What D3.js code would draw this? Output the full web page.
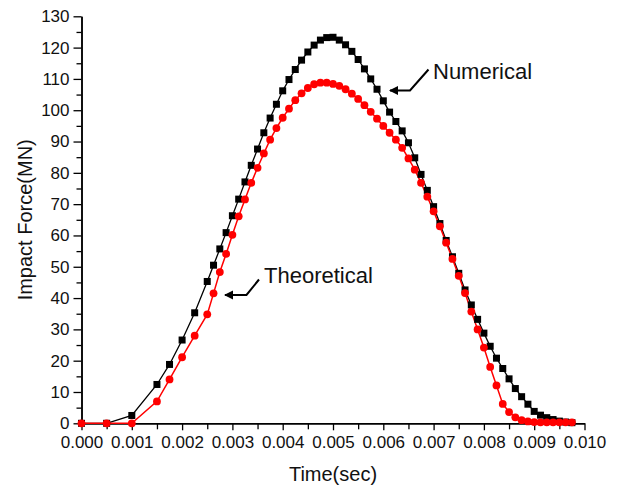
<!DOCTYPE html>
<html><head><meta charset="utf-8">
<script src="https://cdn.jsdelivr.net/npm/d3@7"></script>
<style>
body{margin:0;background:#fff;}
svg{display:block;font-family:Arial,"Liberation Sans",sans-serif;}
</style>
</head><body>
<svg id="chart" width="617" height="489"></svg>
<script>
// ---- data ----
const time = [0, 0.0005, 0.001, 0.0015, 0.00175, 0.002, 0.00225, 0.0025,
  0.002625, 0.00275, 0.002875, 0.003, 0.003125, 0.00325, 0.003375, 0.0035,
  0.003625, 0.00375, 0.003875, 0.004, 0.004125, 0.00425, 0.004375, 0.0045,
  0.004625, 0.00475, 0.004875, 0.005, 0.005125, 0.00525, 0.005375, 0.0055,
  0.005625, 0.00575, 0.005875, 0.006, 0.006125, 0.00625, 0.006375, 0.0065,
  0.006625, 0.00675, 0.006875, 0.007, 0.007125, 0.00725, 0.007375, 0.0075,
  0.007625, 0.00775, 0.007875, 0.008, 0.008125, 0.00825, 0.008375, 0.0085,
  0.008625, 0.00875, 0.008875, 0.009, 0.009125, 0.00925, 0.009375, 0.0095,
  0.009625, 0.00975];
const numerical = [0, 0, 2.5, 12.4, 18.8, 26.6, 35.3, 45.3,
  50.5, 55.7, 60.9, 66.3, 71.6, 77.1, 82.4, 87.6,
  92.8, 97.5, 101.9, 106.2, 109.8, 113.0, 116.0, 118.6,
  120.8, 122.4, 123.2, 123.3, 122.4, 120.9, 118.8, 116.2,
  113.2, 110.0, 106.7, 103.0, 99.4, 96.4, 93.4, 89.6,
  84.8, 79.5, 74.4, 69.2, 63.8, 58.4, 53.2, 47.9,
  42.6, 37.8, 33.2, 28.8, 24.6, 20.8, 17.5, 14.2,
  11.1, 8.5, 6.1, 3.8, 2.6, 1.8, 1.2, 0.7,
  0.4, 0.2];
const theoretical = [0, 0, 0, 7.0, 14.0, 21.1, 28.0, 34.8,
  41.5, 48.3, 54.1, 60.2, 66.1, 71.5, 76.8, 81.6,
  86.2, 90.6, 94.3, 97.6, 100.5, 103.2, 105.4, 107.1,
  108.3, 108.8, 108.8, 108.4, 107.8, 106.7, 105.3, 103.6,
  101.6, 99.5, 97.3, 95.0, 92.8, 90.6, 88.0, 84.6,
  81.0, 76.8, 72.4, 67.7, 62.9, 57.7, 52.5, 47.1,
  41.6, 35.7, 30.0, 24.2, 18.0, 12.1, 6.2, 3.6,
  1.9, 1.0, 0.6, 0.4, 0.3, 0.3, 0.3, 0.3,
  0.3, 0.3];
const xTicks = [0, 0.001, 0.002, 0.003, 0.004, 0.005, 0.006, 0.007, 0.008, 0.009, 0.010];
const xMinorTicks = [0.0005, 0.0015, 0.0025, 0.0035, 0.0045, 0.0055, 0.0065, 0.0075, 0.0085, 0.0095];
const yTicks = [0, 10, 20, 30, 40, 50, 60, 70, 80, 90, 100, 110, 120, 130];
const yMinorTicks = [5, 15, 25, 35, 45, 55, 65, 75, 85, 95, 105, 115, 125];
const xLabel = "Time(sec)";
const yLabel = "Impact Force(MN)";
const seriesNames = ["Numerical", "Theoretical"];

// ---- drawing ----
const svg = d3.select("#chart");
const x = d3.scaleLinear().domain([0, 0.01]).range([81.5, 584.5]);
const y = d3.scaleLinear().domain([0, 130]).range([423.3, 16.3]);

const numData = time.map((t, i) => ({t, v: numerical[i]}));
const theoData = time.map((t, i) => ({t, v: theoretical[i]}));

// axes
const gx = svg.append("g").attr("transform", `translate(0,${y(0)})`)
  .call(d3.axisBottom(x).tickValues(xTicks).tickFormat(d3.format(".3f")).tickSize(7).tickSizeOuter(0).tickPadding(6));
const gxm = svg.append("g").attr("transform", `translate(0,${y(0)})`)
  .call(d3.axisBottom(x).tickValues(xMinorTicks).tickFormat("").tickSize(6).tickSizeOuter(0));
const gy = svg.append("g").attr("transform", `translate(${x(0)},0)`)
  .call(d3.axisLeft(y).tickValues(yTicks).tickSize(8).tickSizeOuter(0).tickPadding(4));
const gym = svg.append("g").attr("transform", `translate(${x(0)},0)`)
  .call(d3.axisLeft(y).tickValues(yMinorTicks).tickFormat("").tickSize(5).tickSizeOuter(0));

[gx, gxm, gy, gym].forEach(g => {
  g.selectAll("path").attr("stroke", "#000").attr("stroke-width", 1.5);
  g.selectAll("line").attr("stroke", "#000").attr("stroke-width", 1.3);
  g.selectAll("text").attr("font-size", 17).attr("fill", "#111")
    .attr("font-family", "Arial, 'Liberation Sans', sans-serif");
});

// axis titles
svg.append("text").attr("x", (x(0) + x(0.01)) / 2).attr("y", 481)
  .attr("text-anchor", "middle").attr("font-size", 20).attr("fill", "#111").text(xLabel);
svg.append("text").attr("transform", `translate(32,${(y(0) + y(130)) / 2}) rotate(-90)`)
  .attr("text-anchor", "middle").attr("font-size", 20).attr("fill", "#111").text(yLabel);

// lines
const line = d3.line().x(d => x(d.t)).y(d => y(d.v));
svg.append("path").datum(numData).attr("fill", "none").attr("stroke", "#000")
  .attr("stroke-width", 1.3).attr("d", line);
svg.append("path").datum(theoData).attr("fill", "none").attr("stroke", "#ff0000")
  .attr("stroke-width", 1.5).attr("d", line);

// markers
const sq = 7;
svg.append("g").selectAll("rect").data(numData).join("rect")
  .attr("x", d => x(d.t) - sq / 2).attr("y", d => y(d.v) - sq / 2)
  .attr("width", sq).attr("height", sq).attr("fill", "#000");
svg.append("g").selectAll("circle").data(theoData).join("circle")
  .attr("cx", d => x(d.t)).attr("cy", d => y(d.v)).attr("r", 3.9).attr("fill", "#ff0000");

// annotations with arrows
function arrow(points) {
  svg.append("path").attr("d", d3.line()(points)).attr("fill", "none")
    .attr("stroke", "#000").attr("stroke-width", 2);
  const [tx, ty] = points[points.length - 1];
  svg.append("path").attr("d", `M${tx - 1},${ty} L${tx + 8},${ty - 4.5} L${tx + 8},${ty + 4.5} Z`).attr("fill", "#000");
}
arrow([[428.5, 69.5], [410, 90.5], [390, 90.5]]);
svg.append("text").attr("x", 433).attr("y", 79).attr("font-size", 22).attr("fill", "#111").text(seriesNames[0]);
arrow([[259, 279.5], [246.5, 295], [225, 295]]);
svg.append("text").attr("x", 264).attr("y", 283).attr("font-size", 22).attr("fill", "#111").text(seriesNames[1]);
</script>
</body></html>
